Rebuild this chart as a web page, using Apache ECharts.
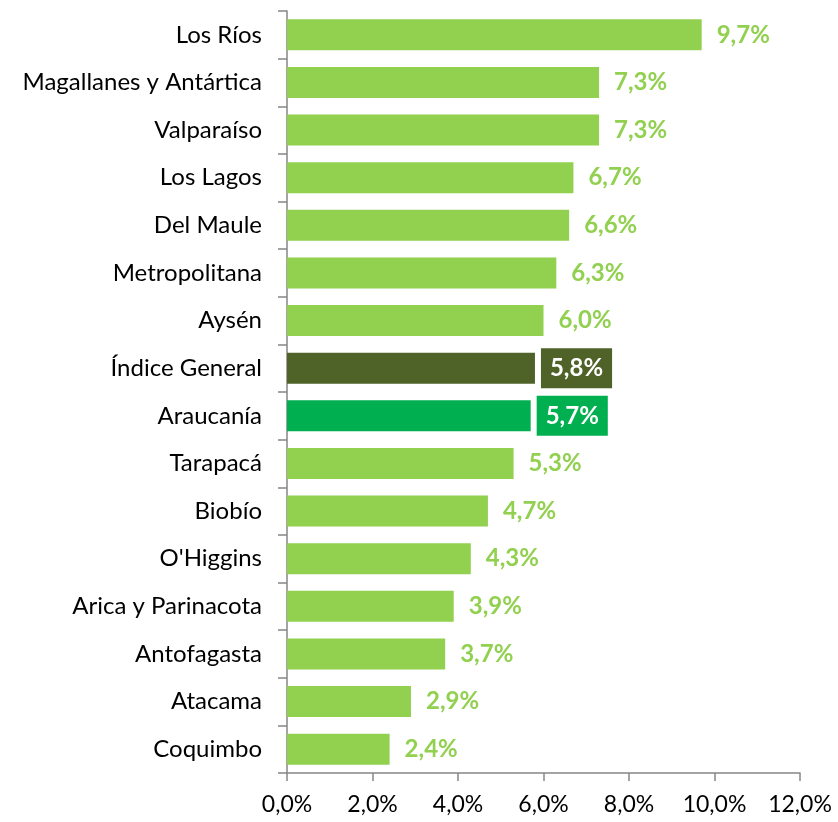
<!DOCTYPE html>
<html>
<head>
<meta charset="utf-8">
<script src="https://cdn.jsdelivr.net/npm/echarts@6/dist/echarts.min.js"></script>
<style>
  html, body { margin: 0; padding: 0; background: #fff; }
  #chart { width: 838px; height: 822px; }
</style>
</head>
<body>
<div id="chart"></div>
<script>
// regiones, de arriba hacia abajo
const categories = ['Los Ríos', 'Magallanes y Antártica', 'Valparaíso', 'Los Lagos', 'Del Maule',
  'Metropolitana', 'Aysén', 'Índice General', 'Araucanía', 'Tarapacá', 'Biobío', "O'Higgins",
  'Arica y Parinacota', 'Antofagasta', 'Atacama', 'Coquimbo']
const values = [9.7, 7.3, 7.3, 6.7, 6.6, 6.3, 6.0, 5.8, 5.7, 5.3, 4.7, 4.3, 3.9, 3.7, 2.9, 2.4]
const xTicks = [0, 2, 4, 6, 8, 10, 12]

const fontFamily = 'Lato, "Open Sans", sans-serif'
const fmt = v => v.toFixed(1).replace('.', ',') + '%'

// colores especiales
const specialColors = {
  'Índice General': '#4F6228',
  'Araucanía': '#00B050'
}

const data = values.map((v, i) => {
  const name = categories[i]
  const c = specialColors[name]
  if (!c) return v
  return {
    value: v,
    itemStyle: { color: c },
    label: {
      color: '#fff',
      backgroundColor: c,
      padding: [9, 9, 7, 9],
      distance: 6
    }
  }
})

const chart = echarts.init(document.getElementById('chart'))

chart.setOption({
  animation: false,
  grid: { left: 287, right: 38, top: 11, bottom: 49 },
  xAxis: {
    type: 'value',
    min: xTicks[0],
    max: xTicks[xTicks.length - 1],
    interval: 2,
    splitLine: { show: false },
    axisLine: { show: true, lineStyle: { color: '#868686', width: 1.5 } },
    axisTick: { show: true, length: 8, lineStyle: { color: '#868686', width: 1.5 } },
    axisLabel: {
      margin: 20,
      color: '#000',
      fontSize: 23,
      fontFamily: fontFamily,
      formatter: v => fmt(v)
    }
  },
  yAxis: {
    type: 'category',
    data: categories,
    inverse: true,
    axisLine: { show: true, lineStyle: { color: '#868686', width: 1.5 } },
    axisTick: { show: true, length: 9, lineStyle: { color: '#868686', width: 1.5 } },
    axisLabel: {
      margin: 25,
      color: '#000',
      fontSize: 24,
      fontFamily: fontFamily
    }
  },
  series: [{
    type: 'bar',
    data: data,
    barCategoryGap: '35%',
    itemStyle: { color: '#92D050' },
    label: {
      show: true,
      position: 'right',
      distance: 15,
      color: '#92D050',
      fontWeight: 'bold',
      fontSize: 24,
      fontFamily: fontFamily,
      formatter: p => fmt(p.value)
    }
  }]
})
</script>
</body>
</html>
